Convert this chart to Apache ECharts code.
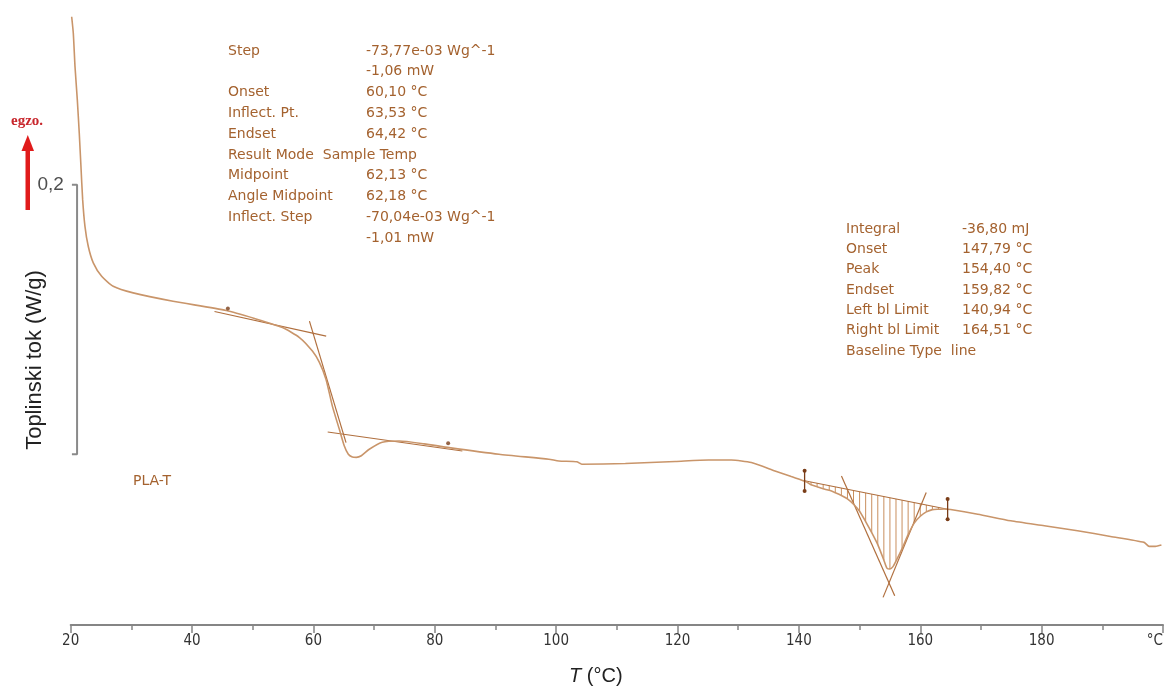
<!DOCTYPE html>
<html>
<head>
<meta charset="utf-8">
<script src="https://cdn.jsdelivr.net/npm/echarts@6/dist/echarts.min.js"></script>
<style>html,body{margin:0;padding:0;background:#fff;}#c{width:1166px;height:691px;}</style>
</head>
<body>
<div id="c"></div>
<script>
// ---- data (temperature in °C, heat flow in W/g) ----
const temps = [20.16,20.43,20.71,21.09,21.41,21.69,21.97,22.35,22.89,23.72,25.10,27.00,30.29,36.87,45.65,50.30,54.90,57.70,59.83,60.98,62.08,63.12,64.27,65.09,65.75,66.41,67.07,67.89,69.20,71.34,74.14,78.25,82.36,90.58,98.80,100.44,103.40,104.22,111.40,119.62,125.10,128.88,132.17,136.06,138.74,141.21,
  142,143,144,145,146,147,148,149,150,151,152,153,154,154.5,155,155.5,156,157,158,159,160,161,162,163,164,165,
  169.48,174.91,180.45,185.92,191.35,196.89,197.71,198.75,199.74];
const heatFlow = [-0.2487,-0.2610,-0.2857,-0.3104,-0.3350,-0.3598,-0.3844,-0.4042,-0.4190,-0.4313,-0.4413,-0.4487,-0.4536,-0.4598,-0.4667,-0.4726,-0.4793,-0.4867,-0.4968,-0.5052,-0.5178,-0.5376,-0.5548,-0.5672,-0.5733,-0.5753,-0.5756,-0.5744,-0.5696,-0.5644,-0.5635,-0.5656,-0.5684,-0.5733,-0.5770,-0.5783,-0.5789,-0.5807,-0.5802,-0.5787,-0.5776,-0.5776,-0.5795,-0.5857,-0.5899,-0.5937,
  -0.5959,-0.5974,-0.5989,-0.6001,-0.6019,-0.6039,-0.6064,-0.6104,-0.6156,-0.6233,-0.6315,-0.6404,-0.6519,-0.6578,-0.6585,-0.6567,-0.6526,-0.6433,-0.6330,-0.6244,-0.6193,-0.6161,-0.6144,-0.6141,-0.6139,-0.6143,
  -0.6178,-0.6227,-0.6264,-0.6301,-0.6343,-0.6387,-0.6417,-0.6417,-0.6407];

// glass transition construction lines
const upperTangentT = [43.7, 62.1];
const upperTangentHF = [-0.4674, -0.4857];
const lowerTangentT = [62.35, 84.54];
const lowerTangentHF = [-0.5568, -0.5709];
const stepTangentT = [59.34, 65.37];
const stepTangentHF = [-0.4746, -0.5647];
const stepMarkerT = [45.9, 82.2];
const stepMarkerHF = [-0.4652, -0.5652];

// melting peak construction lines
const baselineT = [140.94, 164.51];
const baselineHF = [-0.5930, -0.6141];
const leftPeakTangentT = [147.01, 155.79];
const leftPeakTangentHF = [-0.5894, -0.6783];
const rightPeakTangentT = [160.98, 153.87];
const rightPeakTangentHF = [-0.6017, -0.6795];
const limitHalfHeight = 0.0075;

// scale bar (0,2 W/g)
const scaleBarT = 21.05;
const scaleBarTickT = 20.2;
const scaleBarHF = [-0.5733, -0.3733];
const scaleBarLabel = '0,2';

// axis
const xTicks = [20, 40, 60, 80, 100, 120, 140, 160, 180];
const xMin = 20, xMax = 200, xStep = 20;

// annotation texts
const stepLabels = ['Step', '', 'Onset', 'Inflect. Pt.', 'Endset', 'Result Mode  Sample Temp', 'Midpoint', 'Angle Midpoint', 'Inflect. Step', ''];
const stepValues = ['-73,77e-03 Wg^-1', '-1,06 mW', '60,10 °C', '63,53 °C', '64,42 °C', '', '62,13 °C', '62,18 °C', '-70,04e-03 Wg^-1', '-1,01 mW'];
const peakLabels = ['Integral', 'Onset', 'Peak', 'Endset', 'Left bl Limit', 'Right bl Limit', 'Baseline Type  line'];
const peakValues = ['-36,80 mJ', '147,79 °C', '154,40 °C', '159,82 °C', '140,94 °C', '164,51 °C', ''];
const sampleName = 'PLA-T';

const zip = (a, b) => a.map((v, i) => [v, b[i]]);
const curve = zip(temps, heatFlow);
const hatchData = curve.filter(p => Number.isInteger(p[0]) && p[0] > baselineT[0] && p[0] < baselineT[1]);

const curveColor = '#c9956a';
const constrColor = '#b06f3e';
const textColor = '#a4622f';
const markColor = '#7a3d18';
const annFont = '"DejaVu Sans", Verdana, sans-serif';
const annSize = 14;

function constrLine(t, hf) {
  return { type: 'line', data: zip(t, hf), showSymbol: false, silent: true,
    lineStyle: { color: constrColor, width: 1.2 }, z: 3 };
}

const chart = echarts.init(document.getElementById('c'), null, { renderer: 'canvas' });
chart.setOption({
  animation: false,
  backgroundColor: '#fff',
  grid: { left: 70.7, right: 0, top: 5, bottom: 65, containLabel: false },
  xAxis: {
    type: 'value', min: xMin, max: xMax, interval: xStep,
    axisLine: { show: true, lineStyle: { color: '#858585', width: 2 } },
    axisTick: { show: true, length: 8, lineStyle: { color: '#858585', width: 1.5 } },
    minorTick: { show: true, splitNumber: 2, length: 5, lineStyle: { color: '#858585', width: 1.5 } },
    splitLine: { show: false },
    axisLabel: {
      color: '#333', fontSize: 15, margin: 9,
      fontFamily: '"Liberation Sans Narrow", "DejaVu Sans Condensed", sans-serif',
      alignMaxLabel: 'right',
      formatter: v => (xTicks.indexOf(v) >= 0 ? String(v) : (v === xMax ? '°C' : ''))
    },
    name: '{i|T} (°C)',
    nameLocation: 'middle', nameGap: 41,
    nameTextStyle: {
      fontSize: 20, color: '#222', fontFamily: '"Liberation Sans", Arial, sans-serif',
      padding: [0, 42, 0, 0],
      rich: { i: { fontStyle: 'italic', fontSize: 20, color: '#222', fontFamily: '"Liberation Sans", Arial, sans-serif' } }
    }
  },
  yAxis: { type: 'value', min: -0.7, max: -0.24, show: false },
  series: [
    // hatching between curve and baseline
    {
      type: 'custom', data: hatchData, encode: { x: 0, y: 1 }, silent: true, z: 1,
      renderItem: function (params, api) {
        const t = api.value(0), hf = api.value(1);
        const bl = baselineHF[0] + (t - baselineT[0]) * (baselineHF[1] - baselineHF[0]) / (baselineT[1] - baselineT[0]);
        const p1 = api.coord([t, hf]);
        const p2 = api.coord([t, bl]);
        return { type: 'line', shape: { x1: p1[0], y1: p1[1], x2: p2[0], y2: p2[1] },
          style: { stroke: '#c98f5e', lineWidth: 1 } };
      }
    },
    // main DSC curve
    { type: 'line', data: curve, showSymbol: false, smooth: 0.2, silent: true, z: 4,
      lineStyle: { color: curveColor, width: 1.6 } },
    constrLine(upperTangentT, upperTangentHF),
    constrLine(lowerTangentT, lowerTangentHF),
    constrLine(stepTangentT, stepTangentHF),
    constrLine(baselineT, baselineHF),
    constrLine(leftPeakTangentT, leftPeakTangentHF),
    constrLine(rightPeakTangentT, rightPeakTangentHF),
    // limit markers of the peak integration
    ...baselineT.map((t, i) => ({
      type: 'line', silent: true, z: 5,
      data: [[t, baselineHF[i] + limitHalfHeight], [t, baselineHF[i] - limitHalfHeight]],
      symbol: 'circle', symbolSize: 4, showSymbol: true,
      itemStyle: { color: markColor }, lineStyle: { color: markColor, width: 1.3 }
    })),
    // glass transition markers
    { type: 'scatter', data: zip(stepMarkerT, stepMarkerHF), symbol: 'circle', symbolSize: 4,
      itemStyle: { color: markColor }, silent: true, z: 5 },
    // scale bar
    { type: 'line', silent: true, z: 2, showSymbol: false,
      data: [[scaleBarTickT, scaleBarHF[1]], [scaleBarT, scaleBarHF[1]], [scaleBarT, scaleBarHF[0]], [scaleBarTickT, scaleBarHF[0]]],
      lineStyle: { color: '#8a8a8a', width: 2 } },
    { type: 'scatter', silent: true, z: 2, symbolSize: 0,
      data: [[scaleBarTickT, scaleBarHF[1]]],
      label: { show: true, position: 'left', distance: 8, formatter: scaleBarLabel,
        color: '#222', fontSize: 19, fontFamily: '"Liberation Sans", Arial, sans-serif' } }
  ],
  graphic: [
    { type: 'text', left: 228, top: 40.5, silent: true,
      style: { text: stepLabels.join('\n'), fill: textColor, fontSize: annSize, fontFamily: annFont, lineHeight: 20.8 } },
    { type: 'text', left: 366, top: 40.5, silent: true,
      style: { text: stepValues.join('\n'), fill: textColor, fontSize: annSize, fontFamily: annFont, lineHeight: 20.8 } },
    { type: 'text', left: 846, top: 219, silent: true,
      style: { text: peakLabels.join('\n'), fill: textColor, fontSize: annSize, fontFamily: annFont, lineHeight: 20.3 } },
    { type: 'text', left: 962, top: 219, silent: true,
      style: { text: peakValues.join('\n'), fill: textColor, fontSize: annSize, fontFamily: annFont, lineHeight: 20.3 } },
    { type: 'text', left: 133, top: 474, silent: true,
      style: { text: sampleName, fill: textColor, fontSize: annSize, fontFamily: annFont } },
    // y-axis title
    { type: 'text', x: 35, y: 360, rotation: Math.PI / 2, silent: true,
      style: { text: 'Toplinski tok (W/g)', fill: '#222', fontSize: 22, fontFamily: '"Liberation Sans", Arial, sans-serif',
        align: 'center', verticalAlign: 'middle' } },
    // exo arrow
    { type: 'text', x: 27, y: 121, silent: true,
      style: { text: 'egzo.', fill: '#c8262c', fontSize: 15, fontWeight: 'bold', fontFamily: '"Liberation Serif", serif',
        align: 'center', verticalAlign: 'middle' } },
    { type: 'rect', silent: true, shape: { x: 25.5, y: 149, width: 4.5, height: 61 }, style: { fill: '#e01b1b' } },
    { type: 'polygon', silent: true, shape: { points: [[27.8, 135], [21.5, 151], [34, 151]] }, style: { fill: '#e01b1b' } }
  ]
});
</script>
</body>
</html>
